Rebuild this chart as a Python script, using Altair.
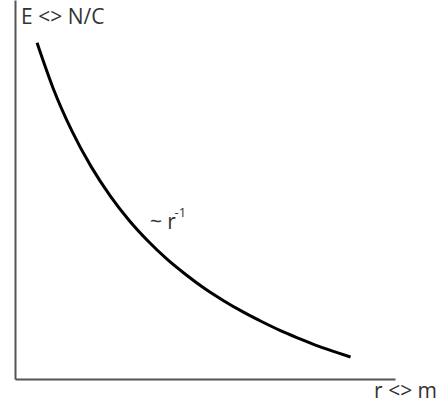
import altair as alt
import pandas as pd

# Field strength falling off with distance, E ~ 1/r (arbitrary units)
r_vals = [0.58, 1.0, 1.5, 2.0, 2.5, 3.0, 3.5, 4.0, 4.5, 5.0, 5.5, 6.0,
          6.5, 7.0, 7.5, 8.0, 8.5, 8.83]
e_vals = [8.87, 7.68, 6.54, 5.61, 4.84, 4.19, 3.64, 3.16, 2.75, 2.38, 2.06,
          1.77, 1.51, 1.27, 1.06, 0.86, 0.69, 0.58]

# Annotation texts and their anchor points in data units
label_text = ["E <> N/C", "r <> m", "~ r"]
label_r = [0.16, 9.45, 3.55]
label_e = [9.37, -0.50, 3.96]
sup_text = ["-1"]
sup_r = [4.2]
sup_e = [4.27]

curve = pd.DataFrame({"r": r_vals, "E": e_vals})
labels = pd.DataFrame({"t": label_text, "r": label_r, "E": label_e})
sups = pd.DataFrame({"t": sup_text, "r": sup_r, "E": sup_e})

x_scale = alt.Scale(domain=[0, 10], nice=False, zero=False)
y_scale = alt.Scale(domain=[0, 10], nice=False, zero=False)

axis_style = dict(labels=False, ticks=False, grid=False, title=None,
                  domainColor="#555555", domainWidth=2)

line = alt.Chart(curve).mark_line(
    color="black", strokeWidth=3, interpolate="monotone"
).encode(
    x=alt.X("r:Q", scale=x_scale, axis=alt.Axis(**axis_style)),
    y=alt.Y("E:Q", scale=y_scale, axis=alt.Axis(**axis_style)),
)

text = alt.Chart(labels).mark_text(
    align="left", baseline="alphabetic", font="Open Sans", fontSize=21,
    color="#333333"
).encode(x=alt.X("r:Q", scale=x_scale), y=alt.Y("E:Q", scale=y_scale), text="t:N")

sup = alt.Chart(sups).mark_text(
    align="left", baseline="alphabetic", font="Open Sans", fontSize=13,
    color="#333333"
).encode(x=alt.X("r:Q", scale=x_scale), y=alt.Y("E:Q", scale=y_scale), text="t:N")

chart = alt.layer(line, text, sup).properties(
    width=380, height=379,
    autosize=alt.AutoSizeParams(type="none"),
    padding={"left": 15, "top": 0, "right": 51, "bottom": 24},
    background="white",
).configure_view(stroke=None)

chart.save("out.html", embed_options={"renderer": "svg", "actions": False})
